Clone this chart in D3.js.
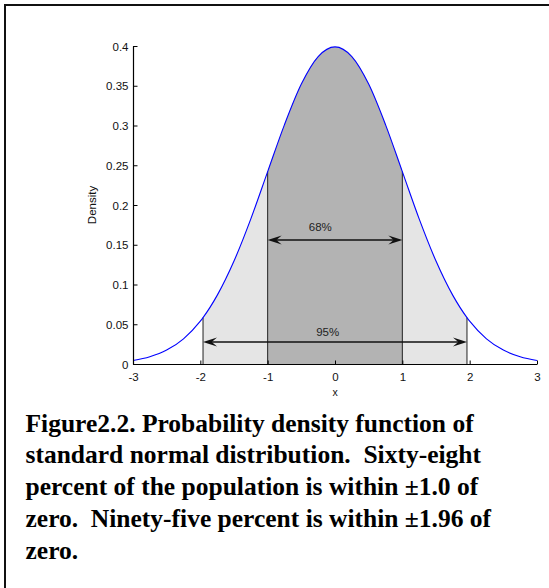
<!DOCTYPE html>
<html>
<head>
<meta charset="utf-8">
<script src="https://cdn.jsdelivr.net/npm/d3@7"></script>
<style>
  html, body { margin: 0; padding: 0; background: #fff; overflow: hidden; }
  svg { display: block; }
</style>
</head>
<body>
<svg id="chart" width="549" height="588"></svg>
<script>
// ---- data ----
const curveX = [-3, -2.75, -2.5, -2.25, -2, -1.96, -1.75, -1.5, -1.25, -1, -0.75, -0.5, -0.25, 0,
                0.25, 0.5, 0.75, 1, 1.25, 1.5, 1.75, 1.96, 2, 2.25, 2.5, 2.75, 3];
const curveY = [0.0044, 0.0091, 0.0175, 0.0317, 0.054, 0.0584, 0.0863, 0.1295, 0.1826, 0.242, 0.3011, 0.3521, 0.3867, 0.3989,
                0.3867, 0.3521, 0.3011, 0.242, 0.1826, 0.1295, 0.0863, 0.0584, 0.054, 0.0317, 0.0175, 0.0091, 0.0044];
const xTicks = [-3, -2, -1, 0, 1, 2, 3];
const yTicks = [0, 0.05, 0.1, 0.15, 0.2, 0.25, 0.3, 0.35, 0.4];
const bands = [
  { from: -1.96, to: 1.96, fill: "#e5e5e5" },
  { from: -1, to: 1, fill: "#b3b3b3" }
];
const boundaries = [-1.96, -1, 1, 1.96];
const arrows = [
  { from: -1, to: 1, y: 0.156, label: "68%", lx: -0.39, ly: 0.1675 },
  { from: -1.96, to: 1.96, y: 0.0277, label: "95%", lx: -0.28, ly: 0.0355 }
];
const xLabel = "x";
const yLabel = "Density";
const caption = [
  "Figure2.2. Probability density function of",
  "standard normal distribution. \u00a0Sixty-eight",
  "percent of the population is within \u00b11.0 of",
  "zero. \u00a0Ninety-five percent is within \u00b11.96 of",
  "zero."
];

// ---- drawing ----
const svg = d3.select("#chart");
const x = d3.scaleLinear().domain([-3, 3]).range([133, 537]);
const y = d3.scaleLinear().domain([0, 0.4]).range([364, 46]);
const pts = curveX.map((v, i) => ({ x: v, y: curveY[i] }));
const dens = v => curveY[curveX.indexOf(v)];

// frame (only top and left edges fall inside the picture)
svg.append("path").attr("d", "M5,600 V5 H600")
  .attr("fill", "none").attr("stroke", "#111").attr("stroke-width", 2);

// shaded bands
const area = d3.area().x(d => x(d.x)).y0(y(0)).y1(d => y(d.y)).curve(d3.curveMonotoneX);
bands.forEach(b => {
  svg.append("path")
    .datum(pts.filter(p => p.x >= b.from - 1e-9 && p.x <= b.to + 1e-9))
    .attr("d", area).attr("fill", b.fill).attr("stroke", "none");
});

// boundary verticals
svg.selectAll("line.bound").data(boundaries).join("line").attr("class", "bound")
  .attr("x1", d => x(d)).attr("x2", d => x(d))
  .attr("y1", y(0)).attr("y2", d => y(dens(d)))
  .attr("stroke", "#222").attr("stroke-width", 1);

// curve
const line = d3.line().x(d => x(d.x)).y(d => y(d.y)).curve(d3.curveMonotoneX);
svg.append("path").datum(pts).attr("d", line)
  .attr("fill", "none").attr("stroke", "#0000ff").attr("stroke-width", 1.1);

// axes
const fontAxis = "Liberation Sans, Arial, sans-serif";
const xAxis = svg.append("g").attr("transform", `translate(0,${y(0)})`)
  .call(d3.axisBottom(x).tickValues(xTicks).tickSizeInner(-3.5).tickSizeOuter(0).tickPadding(0)
    .tickFormat(d => d3.format("d")(d).replace("\u2212", "-")));
xAxis.select(".domain").attr("stroke", "#000").attr("stroke-width", 1.2);
xAxis.selectAll(".tick line").attr("stroke", "#000");
xAxis.selectAll(".tick text").attr("y", 0).attr("dy", 0).attr("transform", "translate(0,17)")
  .attr("font-family", fontAxis).attr("font-size", 11.5).attr("fill", "#111");

const yAxis = svg.append("g").attr("transform", `translate(${x(-3)},0)`)
  .call(d3.axisLeft(y).tickValues(yTicks).tickSizeInner(-4.5).tickSizeOuter(0).tickPadding(0)
    .tickFormat(d => d === 0 ? "0" : String(+d.toFixed(2))));
yAxis.select(".domain").attr("stroke", "#000").attr("stroke-width", 1.2);
yAxis.selectAll(".tick line").attr("stroke", "#000");
yAxis.selectAll(".tick text").attr("x", -4.5).attr("dy", "0.36em")
  .attr("font-family", fontAxis).attr("font-size", 11.5).attr("fill", "#111");

// axis labels
svg.append("text").attr("x", x(0)).attr("y", 396).attr("text-anchor", "middle")
  .attr("font-family", fontAxis).attr("font-size", 10.5).attr("fill", "#111").text(xLabel);
svg.append("text").attr("transform", "translate(96,205) rotate(-90)").attr("text-anchor", "middle")
  .attr("font-family", fontAxis).attr("font-size", 11.5).attr("fill", "#111").text(yLabel);

// arrows
const head = (L, w) => `M0,0 L${L},${-w} L${L * 0.62},0 L${L},${w} Z`;
arrows.forEach(a => {
  const ya = y(a.y), x1 = x(a.from), x2 = x(a.to);
  svg.append("line").attr("x1", x1 + 3).attr("x2", x2 - 3).attr("y1", ya).attr("y2", ya)
    .attr("stroke", "#111").attr("stroke-width", 1.3);
  svg.append("path").attr("d", head(14, 4.5)).attr("transform", `translate(${x1},${ya})`).attr("fill", "#111");
  svg.append("path").attr("d", head(14, 4.5)).attr("transform", `translate(${x2},${ya}) scale(-1,1)`).attr("fill", "#111");
  svg.append("text").attr("x", x(a.lx)).attr("y", y(a.ly))
    .attr("font-family", fontAxis).attr("font-size", 11.5).attr("fill", "#222").text(a.label);
});

// caption
svg.append("g").selectAll("text").data(caption).join("text")
  .attr("x", 25.5).attr("y", (d, i) => 431.7 + i * 31.7)
  .attr("font-family", "Liberation Serif, 'Times New Roman', serif")
  .attr("font-weight", "bold").attr("font-size", 25.5).attr("fill", "#000")
  .text(d => d);
</script>
</body>
</html>
